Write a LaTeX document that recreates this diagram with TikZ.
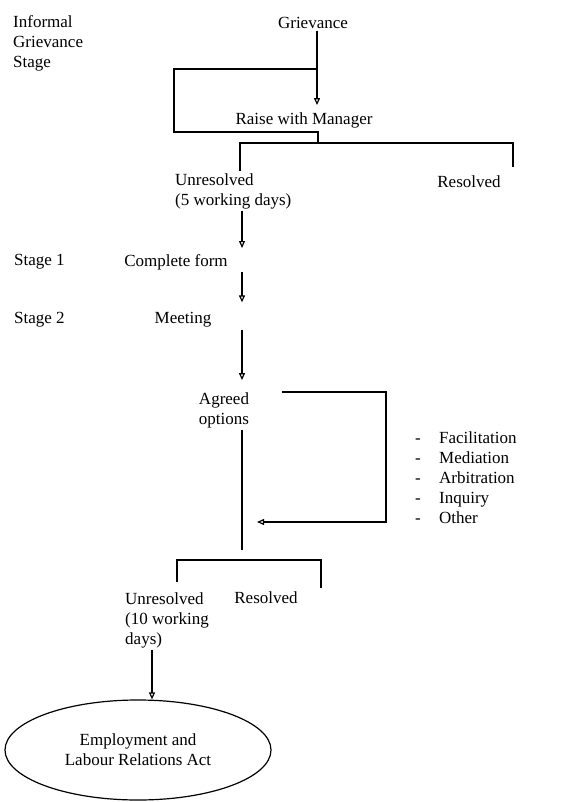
\documentclass[tikz,border=0pt]{standalone}
\usepackage{fontspec}
\setmainfont{Liberation Serif}
\usetikzlibrary{arrows.meta,positioning,shapes.geometric,calc}

\begin{document}
\begin{tikzpicture}[x=1pt, y=-1pt,
  lbl/.style={inner sep=2pt, font=\fontsize{17}{20}\selectfont, align=left},
  ln/.style={line width=1.2pt},
  arr/.style={ln, -{Triangle[open, length=7pt, width=6pt]}}]
  \useasboundingbox (0,0) rectangle (568,802);

  % Stage labels (left column)
  \node[lbl, anchor=west] (informal) at (11,43) {Informal\\Grievance\\Stage};
  \node[lbl, anchor=west] (stageone) at (12,262) {Stage 1};
  \node[lbl, anchor=west] (stagetwo) at (12,320) {Stage 2};

  % Main flow
  \node[lbl] (griev) at (313,23) {Grievance};
  \node[lbl] (raise) at (304,120) {Raise with Manager};
  \node[lbl, anchor=west] (unresA) at (173,191) {Unresolved\\(5 working days)};
  \node[lbl] (resA) at (469,182) {Resolved};
  \node[lbl] (form) at (176,262) {Complete form};
  \node[lbl] (meeting) at (183,320) {Meeting};
  \node[lbl, align=center] (agreed) at (224,410) {Agreed\\options};
  \node[lbl, anchor=west] (opts) at (413,478)
    {\makebox[24pt][l]{-}Facilitation\\\makebox[24pt][l]{-}Mediation\\
     \makebox[24pt][l]{-}Arbitration\\\makebox[24pt][l]{-}Inquiry\\
     \makebox[24pt][l]{-}Other};
  \node[lbl, anchor=west] (unresB) at (123,620) {Unresolved\\(10 working\\days)};
  \node[lbl] (resB) at (266,598) {Resolved};
  \node[lbl, draw, ln, ellipse, align=center, minimum width=266pt, minimum height=100pt]
    (act) at (138,750) {Employment and\\Labour Relations Act};

  % Junction points
  \coordinate (colG) at (317,0);
  \coordinate (colM) at (242,0);
  \coordinate (colL) at (152,0);
  \coordinate (loopT) at (317,69);
  \coordinate (loopTL) at (174,69);
  \coordinate (loopBL) at (174,132);
  \coordinate (loopB) at (318,132);
  \coordinate (splitA) at (318,143);
  \coordinate (brA) at (240,143);
  \coordinate (brB) at (513,143);
  \coordinate (legB) at (513,167);
  \coordinate (optsT) at (282,392);
  \coordinate (optsR) at (386,392);
  \coordinate (optsIn) at (257,522);
  \coordinate (brC) at (242,550);
  \coordinate (brL) at (177,560);
  \coordinate (brR) at (321,560);
  \coordinate (legL) at (177,582);
  \coordinate (legR) at (321,588);

  % Connectors
  \draw[arr, shorten >=5pt] (griev.south -| colG) -- (raise.north -| colG);
  \draw[ln] (loopT) -- (loopTL) -- (loopBL) -- (loopB) -- (splitA);
  \draw[ln] (unresA.north -| brA) -- (brA) -- (brB) -- (legB);
  \draw[arr, shorten >=4pt] (unresA.south -| colM) -- (form.north -| colM);
  \draw[arr, shorten >=8pt] (form.south -| colM) -- (meeting.north -| colM);
  \draw[arr, shorten >=10pt] (meeting.south -| colM) -- (agreed.north -| colM);
  \draw[arr] (optsT) -- (optsR) |- (optsIn);
  \draw[ln] (agreed.south -| colM) -- (brC);
  \draw[ln] (legL) -- (brL) -- (brR) -- (legR);
  \draw[arr] (unresB.south -| colL) -- (act.north -| colL);
\end{tikzpicture}
\end{document}
